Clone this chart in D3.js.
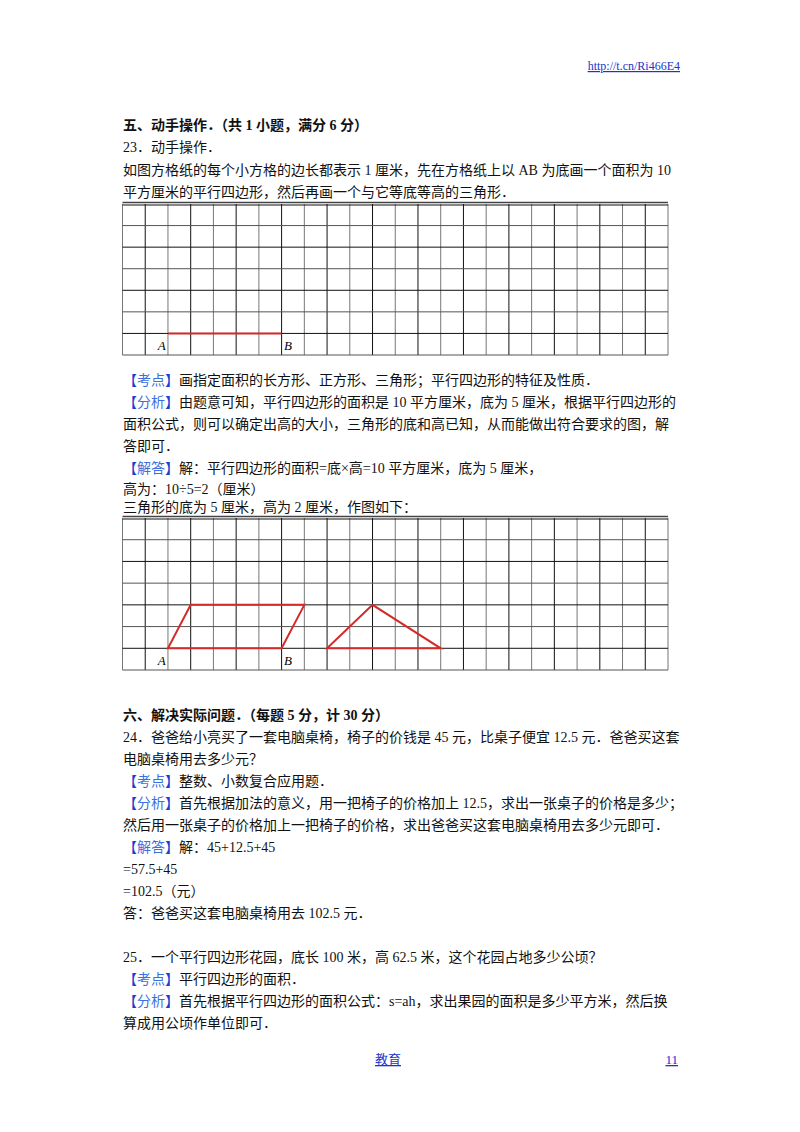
<!DOCTYPE html>
<html><head><meta charset="utf-8">
<script src="https://cdn.jsdelivr.net/npm/d3@7"></script>
<style>body{margin:0;background:#fff}</style></head>
<body><svg id="c" width="800" height="1132"></svg>
<script>
const gridCols = 24, gridRows = 7;
const abSegment = [[2,6],[7,6]];
const parallelogram = [[2,6],[7,6],[8,4],[3,4]];
const triangle = [[9,6],[14,6],[11,4]];
const labels = [{t:"A",c:1.55},{t:"B",c:7.1}];
const lines = [
 {y:130,parts:[["五、动手操作．（共 1 小题，满分 6 分）","b"]]},
 {y:152,parts:[["23．动手操作．"]]},
 {y:175,parts:[["如图方格纸的每个小方格的边长都表示 1 厘米，先在方格纸上以 AB 为底画一个面积为 10"]]},
 {y:197,parts:[["平方厘米的平行四边形，然后再画一个与它等底等高的三角形．"]]},
 {y:385,parts:[["【","k"],["考点","kk"],["】","k"],["画指定面积的长方形、正方形、三角形；平行四边形的特征及性质．"]]},
 {y:407,parts:[["【","k"],["分析","kk"],["】","k"],["由题意可知，平行四边形的面积是 10 平方厘米，底为 5 厘米，根据平行四边形的"]]},
 {y:429,parts:[["面积公式，则可以确定出高的大小，三角形的底和高已知，从而能做出符合要求的图，解"]]},
 {y:451,parts:[["答即可．"]]},
 {y:473,parts:[["【","k"],["解答","kk"],["】","k"],["解：平行四边形的面积=底×高=10 平方厘米，底为 5 厘米，"]]},
 {y:494,parts:[["高为：10÷5=2（厘米）"]]},
 {y:512,parts:[["三角形的底为 5 厘米，高为 2 厘米，作图如下："]]},
 {y:720,parts:[["六、解决实际问题．（每题 5 分，计 30 分）","b"]]},
 {y:742,parts:[["24．爸爸给小亮买了一套电脑桌椅，椅子的价钱是 45 元，比桌子便宜 12.5 元．爸爸买这套"]]},
 {y:764,parts:[["电脑桌椅用去多少元？"]]},
 {y:786,parts:[["【","k"],["考点","kk"],["】","k"],["整数、小数复合应用题．"]]},
 {y:808,parts:[["【","k"],["分析","kk"],["】","k"],["首先根据加法的意义，用一把椅子的价格加上 12.5，求出一张桌子的价格是多少；"]]},
 {y:830,parts:[["然后用一张桌子的价格加上一把椅子的价格，求出爸爸买这套电脑桌椅用去多少元即可．"]]},
 {y:852,parts:[["【","k"],["解答","kk"],["】","k"],["解：45+12.5+45"]]},
 {y:874,parts:[["=57.5+45"]]},
 {y:896,parts:[["=102.5（元）"]]},
 {y:918,parts:[["答：爸爸买这套电脑桌椅用去 102.5 元．"]]},
 {y:962,parts:[["25．一个平行四边形花园，底长 100 米，高 62.5 米，这个花园占地多少公顷？"]]},
 {y:984,parts:[["【","k"],["考点","kk"],["】","k"],["平行四边形的面积．"]]},
 {y:1006,parts:[["【","k"],["分析","kk"],["】","k"],["首先根据平行四边形的面积公式：s=ah，求出果园的面积是多少平方米，然后换"]]},
 {y:1028,parts:[["算成用公顷作单位即可．"]]}
];
const svg = d3.select("#c");
const font = "'Liberation Serif','Noto Sans CJK SC',serif";
lines.forEach(l=>{
  const t = svg.append("text").attr("x",123).attr("y",l.y).attr("font-family",font).attr("font-size",14).attr("fill","#111");
  l.parts.forEach(p=>{
    const s=t.append("tspan").text(p[0]);
    if(p[1]==="b") s.attr("font-weight","bold");
    if(p[1]==="k") s.attr("fill","#1a3fd0");
    if(p[1]==="kk") s.attr("fill","#3b6fe0");
  });
});
svg.append("text").attr("x",680).attr("y",70).attr("text-anchor","end").attr("font-family",font).attr("font-size",12).attr("fill","#2233cc").attr("text-decoration","underline").text("http://t.cn/Ri466E4");
svg.append("text").attr("x",388).attr("y",1064).attr("text-anchor","middle").attr("font-family",font).attr("font-size",13).attr("fill","#2233cc").attr("text-decoration","underline").text("教育");
svg.append("text").attr("x",678).attr("y",1064).attr("text-anchor","end").attr("font-family",font).attr("font-size",13).attr("fill","#2233cc").attr("text-decoration","underline").text("11");

function grid(top,bottom,shapes){
  const x=d3.scaleLinear().domain([0,gridCols]).range([122.5,668]);
  const y=d3.scaleLinear().domain([0,gridRows]).range([top,bottom]);
  const g=svg.append("g");
  d3.range(gridCols+1).forEach(i=>g.append("line").attr("x1",x(i)).attr("x2",x(i)).attr("y1",top).attr("y2",bottom).attr("stroke",i%2?"#111":"#777").attr("stroke-width",1));
  d3.range(1,gridRows+1).forEach(i=>g.append("line").attr("x1",x(0)).attr("x2",x(gridCols)).attr("y1",y(i)).attr("y2",y(i)).attr("stroke",i%2?"#555":"#111").attr("stroke-width",1));
  g.append("line").attr("x1",x(0)).attr("x2",x(gridCols)).attr("y1",top-1.5).attr("y2",top-1.5).attr("stroke","#444").attr("stroke-width",1.5);
  g.append("line").attr("x1",x(0)).attr("x2",x(gridCols)).attr("y1",top+1).attr("y2",top+1).attr("stroke","#111").attr("stroke-width",1);
  shapes.forEach(s=>g.append("path").attr("d",d3.line().x(d=>x(d[0])).y(d=>y(d[1]))(s.pts)+(s.closed?"Z":"")).attr("fill","none").attr("stroke","#d42a2a").attr("stroke-width",2));
  labels.forEach(l=>g.append("text").attr("x",x(l.c)).attr("y",y(6.75)).attr("font-family","'Liberation Serif',serif").attr("font-style","italic").attr("font-size",13).text(l.t));
}
grid(204,355,[{pts:abSegment,closed:false}]);
grid(518,670,[{pts:parallelogram,closed:true},{pts:triangle,closed:true}]);
</script></body></html>
